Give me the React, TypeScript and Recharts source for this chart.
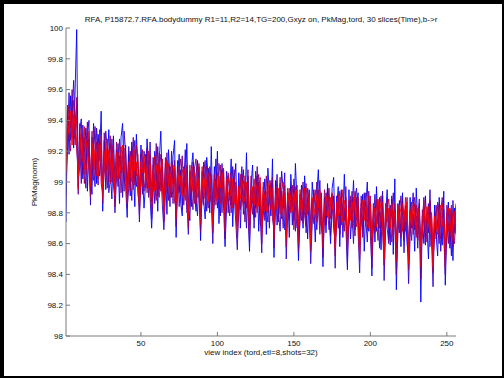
import React from "react"
import { LineChart, Line, XAxis, YAxis } from "recharts"

// view index 1..256 (etl=8 → every 8th view tends to dip)
const views = Array.from({ length: 256 }, (_, i) => i + 1)

const xTicks = [50, 100, 150, 200, 250]
const yTicks = [98, 98.2, 98.4, 98.6, 98.8, 99, 99.2, 99.4, 99.6, 99.8, 100]

// 6 time slices, blue -> red
const sliceColors = ["#0000ff", "#3300cc", "#660099", "#990066", "#cc0033", "#ff0000"]

const slice1 = [
  98.74, 99.47, 99.18, 99.56, 99.36, 99.22, 99.61, 99.99,
  98.97, 99.33, 99.41, 99.02, 99.19, 99.35, 98.94, 99.28,
  99.02, 98.92, 99.38, 99.24, 98.99, 99.31, 99.17, 99.46,
  98.81, 99.27, 98.95, 99.13, 99.34, 99.06, 98.89, 99.3,
  99.0, 99.21, 99.12, 98.86, 99.29, 99.38, 99.02, 98.97,
  98.77, 99.18, 98.91, 99.26, 99.08, 98.84, 99.31, 99.12,
  98.95, 99.24, 99.07, 98.83, 98.98, 99.28, 99.11, 98.9,
  98.7, 98.93, 99.2, 99.09, 98.81, 99.15, 99.33, 98.96,
  98.88, 99.12, 98.79, 99.21, 99.03, 98.9, 99.17, 99.27,
  98.64, 99.05, 99.18, 98.86, 98.78, 99.1, 98.97, 99.25,
  98.83, 98.75, 99.09, 99.19, 98.95, 98.81, 99.14, 99.02,
  98.62, 99.07, 98.88, 98.76, 99.16, 99.03, 98.8, 99.23,
  98.79, 99.1, 98.94, 99.2, 98.73, 98.97, 99.08, 98.85,
  98.58, 98.84, 99.04, 98.92, 99.15, 98.71, 98.98, 99.12,
  98.76, 99.06, 98.7, 98.95, 99.08, 98.86, 99.19, 98.8,
  98.55, 98.98, 99.11, 98.77, 98.9, 99.04, 98.68, 98.94,
  98.74, 98.85, 99.02, 98.66, 99.09, 98.93, 98.78, 99.15,
  98.51, 99.01, 98.72, 98.9, 98.83, 99.07, 98.95, 98.69,
  98.7, 98.93, 98.64, 99.05, 98.86, 98.75, 99.12, 98.89,
  98.49, 98.81, 98.98, 98.7, 99.04, 98.88, 98.63, 98.95,
  98.68, 99.0, 98.85, 98.61, 98.92, 99.08, 98.77, 98.84,
  98.45, 98.9, 98.67, 98.99, 98.79, 98.6, 98.96, 99.03,
  98.66, 98.84, 98.97, 98.58, 98.88, 98.76, 99.05, 98.71,
  98.43, 98.95, 98.63, 98.8, 99.01, 98.69, 98.86, 98.93,
  98.6, 98.77, 98.92, 98.55, 98.84, 99.0, 98.68, 98.87,
  98.39, 98.86, 98.61, 98.97, 98.73, 98.82, 98.56, 98.91,
  98.57, 98.8, 98.95, 98.62, 98.74, 98.89, 98.53, 99.02,
  98.3, 98.72, 98.88, 98.58, 98.93, 98.66, 98.81, 98.6,
  98.52, 98.9, 98.7, 98.79, 98.55, 98.96, 98.74, 98.84,
  98.22, 98.78, 98.6, 98.91, 98.71, 98.5, 98.87, 98.69,
  98.48, 98.85, 98.66, 98.52, 98.9, 98.73, 98.59, 98.94,
  98.33, 98.7, 98.87, 98.57, 98.79, 98.49, 98.83, 98.66,
]

const slice2 = [
  98.9, 99.31, 99.58, 99.27, 99.43, 99.66, 99.34, 99.21,
  99.05, 99.24, 98.99, 99.37, 99.12, 98.96, 99.3, 99.4,
  98.85, 99.29, 99.12, 98.97, 99.35, 99.2, 99.04, 99.16,
  98.98, 99.14, 99.33, 99.21, 98.93, 99.02, 99.28, 99.1,
  98.8, 99.02, 99.25, 99.1, 99.17, 98.9, 99.33, 99.19,
  98.96, 99.23, 99.09, 98.88, 99.14, 99.27, 98.97, 99.05,
  98.74, 99.09, 98.92, 99.2, 99.13, 98.96, 99.02, 99.26,
  98.9, 99.16, 98.86, 99.02, 99.23, 98.95, 99.08, 98.85,
  98.69, 98.91, 99.13, 99.04, 98.84, 99.2, 98.99, 99.09,
  98.86, 99.14, 98.93, 99.08, 98.82, 98.99, 99.21, 98.9,
  98.66, 98.99, 98.84, 99.13, 99.04, 98.9, 98.78, 99.1,
  98.8, 98.87, 99.13, 98.97, 98.81, 99.09, 98.94, 98.86,
  98.6, 98.95, 99.15, 98.83, 98.99, 98.78, 99.12, 98.93,
  98.78, 99.07, 98.8, 98.95, 98.85, 99.1, 98.91, 98.74,
  98.56, 98.89, 98.98, 99.1, 98.79, 98.93, 98.7, 99.04,
  98.75, 98.82, 98.95, 98.7, 99.07, 98.86, 99.0, 98.79,
  98.54, 98.97, 98.75, 98.88, 98.93, 98.7, 98.99, 98.85,
  98.72, 98.86, 99.05, 98.79, 98.68, 98.94, 98.83, 99.06,
  98.5, 98.8, 98.89, 98.97, 98.72, 99.02, 98.84, 98.7,
  98.7, 98.92, 98.75, 98.85, 98.97, 98.67, 98.9, 98.8,
  98.47, 98.74, 98.95, 98.82, 98.69, 98.87, 99.01, 98.72,
  98.67, 98.83, 98.72, 98.96, 98.86, 98.65, 98.79, 98.91,
  98.44, 98.91, 98.7, 98.8, 98.95, 98.64, 98.83, 98.77,
  98.64, 98.72, 98.88, 98.78, 98.6, 98.9, 98.96, 98.67,
  98.41, 98.83, 98.69, 98.93, 98.76, 98.61, 98.86, 98.8,
  98.62, 98.75, 98.92, 98.68, 98.85, 98.57, 98.79, 98.94,
  98.36, 98.69, 98.84, 98.77, 98.59, 98.91, 98.71, 98.82,
  98.58, 98.86, 98.67, 98.74, 98.89, 98.54, 98.78, 98.7,
  98.34, 98.64, 98.81, 98.93, 98.69, 98.78, 98.57, 98.86,
  98.56, 98.71, 98.9, 98.59, 98.8, 98.67, 98.95, 98.62,
  98.32, 98.8, 98.63, 98.74, 98.86, 98.55, 98.72, 98.82,
  98.55, 98.62, 98.84, 98.71, 98.52, 98.88, 98.67, 98.77,
]

const slice3 = [
  99.05, 99.22, 99.43, 99.35, 99.6, 99.28, 99.4, 99.5,
  98.92, 99.38, 99.16, 99.05, 99.29, 99.22, 99.39, 99.07,
  98.94, 99.06, 99.24, 99.36, 99.13, 98.98, 99.27, 99.2,
  98.86, 99.32, 99.08, 99.19, 99.0, 99.25, 99.15, 98.98,
  98.9, 99.13, 98.97, 99.28, 99.06, 99.2, 98.94, 99.24,
  98.83, 98.96, 99.2, 99.12, 99.29, 99.0, 99.11, 98.92,
  98.85, 99.18, 99.15, 98.94, 99.05, 99.22, 98.9, 99.09,
  98.76, 99.06, 98.97, 99.25, 98.91, 99.05, 99.18, 99.12,
  98.82, 99.0, 99.19, 98.88, 99.1, 99.06, 98.86, 99.14,
  98.71, 99.11, 98.84, 99.02, 99.17, 98.93, 99.05, 98.8,
  98.79, 99.07, 98.94, 98.82, 99.09, 99.15, 98.97, 98.89,
  98.67, 98.93, 99.06, 99.14, 98.9, 98.83, 99.1, 99.0,
  98.74, 98.86, 99.02, 98.91, 99.12, 99.04, 98.8, 99.09,
  98.63, 98.98, 98.91, 98.78, 99.01, 98.94, 99.08, 98.87,
  98.71, 98.97, 98.82, 99.05, 98.93, 98.74, 98.98, 98.91,
  98.6, 98.91, 98.79, 98.97, 98.83, 99.1, 98.9, 98.73,
  98.7, 98.78, 98.94, 98.83, 98.74, 98.98, 98.9, 99.03,
  98.57, 98.91, 98.96, 98.74, 98.99, 98.86, 98.7, 98.93,
  98.66, 98.87, 98.75, 98.94, 98.85, 98.95, 98.68, 98.98,
  98.54, 98.74, 98.89, 99.0, 98.78, 98.71, 98.96, 98.85,
  98.63, 98.89, 98.73, 98.8, 99.0, 98.84, 98.66, 98.93,
  98.51, 98.77, 98.93, 98.82, 98.69, 98.88, 98.92, 98.7,
  98.61, 98.75, 98.86, 98.66, 98.91, 98.82, 98.75, 98.97,
  98.47, 98.85, 98.76, 98.94, 98.73, 98.65, 98.9, 98.79,
  98.58, 98.91, 98.64, 98.81, 98.87, 98.74, 98.94, 98.66,
  98.44, 98.73, 98.84, 98.76, 98.62, 98.9, 98.7, 98.81,
  98.55, 98.86, 98.7, 98.6, 98.85, 98.77, 98.93, 98.72,
  98.4, 98.66, 98.79, 98.91, 98.71, 98.62, 98.85, 98.77,
  98.53, 98.75, 98.62, 98.84, 98.9, 98.66, 98.73, 98.89,
  98.37, 98.82, 98.73, 98.64, 98.78, 98.86, 98.58, 98.8,
  98.5, 98.67, 98.85, 98.72, 98.6, 98.81, 98.9, 98.65,
  98.4, 98.79, 98.6, 98.83, 98.7, 98.58, 98.76, 98.86,
]

const slice4 = [
  99.14, 99.5, 99.3, 99.2, 99.46, 99.37, 99.24, 99.55,
  99.02, 99.1, 99.31, 99.25, 98.99, 99.18, 99.27, 99.13,
  98.9, 99.33, 99.01, 99.15, 99.26, 99.08, 99.34, 98.99,
  98.93, 99.05, 99.22, 98.96, 99.17, 99.3, 99.0, 99.21,
  98.84, 99.26, 99.08, 99.17, 98.93, 99.1, 99.22, 99.0,
  98.91, 99.07, 98.94, 99.19, 99.1, 98.98, 99.24, 99.13,
  98.79, 98.99, 99.21, 99.06, 99.18, 98.93, 99.06, 99.17,
  98.87, 99.11, 99.03, 98.88, 99.06, 99.19, 98.94, 99.08,
  98.74, 99.16, 98.93, 99.05, 98.96, 99.13, 99.08, 98.87,
  98.83, 98.97, 99.06, 99.15, 99.01, 98.85, 98.98, 99.11,
  98.7, 99.11, 98.91, 99.02, 98.86, 99.06, 99.1, 98.95,
  98.79, 98.98, 98.85, 99.06, 99.1, 98.92, 98.87, 99.05,
  98.67, 99.05, 98.85, 98.96, 98.89, 99.11, 98.93, 99.0,
  98.75, 98.9, 99.06, 98.99, 98.8, 98.97, 99.03, 98.84,
  98.64, 98.8, 99.03, 98.87, 99.01, 98.96, 98.83, 99.08,
  98.72, 99.04, 98.86, 98.91, 98.77, 98.95, 99.05, 98.87,
  98.6, 98.92, 98.87, 99.04, 98.8, 98.87, 99.01, 98.76,
  98.69, 98.81, 98.93, 98.84, 99.03, 98.76, 98.88, 98.98,
  98.58, 98.96, 98.81, 98.87, 98.98, 98.69, 98.93, 98.82,
  98.66, 98.85, 98.94, 98.73, 98.86, 98.99, 98.79, 98.88,
  98.55, 98.8, 98.91, 98.86, 98.74, 98.95, 98.83, 98.7,
  98.64, 98.95, 98.78, 98.86, 98.96, 98.76, 98.84, 98.81,
  98.52, 98.79, 98.83, 98.94, 98.72, 98.85, 98.68, 98.9,
  98.61, 98.78, 98.91, 98.7, 98.83, 98.94, 98.75, 98.84,
  98.49, 98.86, 98.74, 98.79, 98.93, 98.69, 98.8, 98.91,
  98.59, 98.8, 98.67, 98.89, 98.78, 98.83, 98.91, 98.68,
  98.46, 98.76, 98.88, 98.7, 98.82, 98.61, 98.79, 98.86,
  98.57, 98.82, 98.73, 98.64, 98.84, 98.77, 98.68, 98.9,
  98.43, 98.79, 98.87, 98.66, 98.76, 98.85, 98.62, 98.78,
  98.54, 98.67, 98.84, 98.76, 98.61, 98.79, 98.88, 98.71,
  98.41, 98.76, 98.69, 98.87, 98.7, 98.63, 98.8, 98.73,
  98.51, 98.85, 98.73, 98.64, 98.82, 98.71, 98.6, 98.8,
]

const slice5 = [
  99.16, 99.27, 99.49, 99.41, 99.29, 99.53, 99.33, 99.42,
  98.95, 99.28, 99.2, 99.13, 99.36, 99.05, 99.16, 99.33,
  99.0, 99.17, 99.29, 99.09, 99.04, 99.25, 99.14, 99.3,
  98.89, 99.2, 99.04, 99.28, 99.12, 98.99, 99.24, 99.07,
  98.93, 99.08, 99.19, 99.02, 99.23, 99.15, 99.06, 99.14,
  98.86, 99.13, 99.03, 99.16, 98.95, 99.21, 99.04, 99.18,
  98.88, 99.04, 98.97, 99.13, 99.09, 99.02, 99.2, 98.95,
  98.81, 99.0, 99.17, 98.95, 99.12, 98.9, 99.04, 99.15,
  98.85, 99.08, 99.02, 99.12, 98.9, 99.03, 99.11, 99.0,
  98.76, 98.92, 99.1, 98.97, 99.08, 99.04, 98.88, 99.03,
  98.81, 98.94, 99.03, 99.1, 98.96, 98.86, 99.04, 99.12,
  98.72, 99.1, 98.95, 98.89, 99.02, 99.06, 98.96, 98.9,
  98.77, 98.98, 98.9, 99.06, 99.0, 98.86, 99.01, 99.09,
  98.68, 99.02, 98.94, 98.88, 99.06, 98.83, 98.96, 99.0,
  98.74, 98.92, 99.05, 98.9, 98.84, 99.04, 98.95, 98.86,
  98.65, 98.95, 98.88, 99.02, 98.93, 98.8, 98.97, 99.03,
  98.72, 99.0, 98.81, 98.92, 98.97, 98.89, 98.82, 98.96,
  98.63, 98.83, 98.97, 98.91, 98.79, 98.95, 99.0, 98.85,
  98.69, 98.91, 98.93, 98.8, 98.9, 98.84, 98.97, 98.77,
  98.6, 98.95, 98.82, 98.9, 98.92, 98.78, 98.86, 98.93,
  98.66, 98.83, 98.88, 98.95, 98.79, 98.9, 98.72, 98.88,
  98.57, 98.86, 98.8, 98.77, 98.91, 98.84, 98.93, 98.76,
  98.63, 98.72, 98.92, 98.83, 98.78, 98.95, 98.81, 98.85,
  98.55, 98.88, 98.81, 98.74, 98.9, 98.79, 98.71, 98.9,
  98.62, 98.73, 98.84, 98.88, 98.71, 98.8, 98.91, 98.76,
  98.52, 98.86, 98.76, 98.83, 98.89, 98.7, 98.8, 98.87,
  98.6, 98.71, 98.81, 98.89, 98.76, 98.84, 98.65, 98.8,
  98.48, 98.85, 98.69, 98.78, 98.86, 98.72, 98.9, 98.74,
  98.58, 98.82, 98.76, 98.71, 98.86, 98.64, 98.8, 98.83,
  98.45, 98.75, 98.88, 98.68, 98.79, 98.84, 98.7, 98.77,
  98.55, 98.71, 98.8, 98.85, 98.66, 98.78, 98.86, 98.69,
  98.44, 98.8, 98.68, 98.77, 98.85, 98.62, 98.74, 98.82,
]

const slice6 = [
  99.07, 99.39, 99.31, 99.46, 99.24, 99.44, 99.35, 99.26,
  99.04, 99.2, 99.35, 99.17, 99.08, 99.27, 99.21, 99.12,
  98.97, 99.25, 99.07, 99.21, 99.18, 99.02, 99.24, 99.15,
  98.96, 99.12, 99.26, 99.1, 99.21, 99.14, 99.03, 99.19,
  98.91, 99.19, 99.02, 99.13, 99.07, 99.24, 99.12, 99.05,
  98.94, 99.06, 99.17, 99.0, 99.2, 99.07, 99.13, 99.0,
  98.86, 99.13, 99.06, 99.17, 98.99, 99.1, 98.96, 99.12,
  98.9, 99.08, 98.94, 99.11, 99.03, 99.13, 99.07, 98.97,
  98.8, 99.04, 99.14, 98.97, 99.06, 98.94, 99.04, 99.1,
  98.87, 99.06, 98.99, 99.04, 98.91, 99.09, 99.02, 98.95,
  98.76, 98.97, 99.08, 98.94, 99.06, 99.01, 98.9, 99.03,
  98.83, 99.02, 98.91, 99.05, 98.98, 98.87, 99.04, 98.97,
  98.72, 99.01, 98.93, 98.87, 99.04, 98.96, 99.06, 98.91,
  98.8, 98.93, 99.03, 98.96, 98.91, 99.02, 98.86, 98.98,
  98.69, 98.97, 98.89, 99.01, 98.94, 98.87, 99.0, 98.95,
  98.77, 98.88, 98.97, 98.85, 99.0, 98.94, 98.84, 98.99,
  98.66, 98.94, 98.9, 98.81, 98.95, 99.01, 98.88, 98.84,
  98.74, 98.92, 98.82, 98.96, 98.88, 98.8, 98.94, 98.9,
  98.63, 98.84, 98.96, 98.88, 98.81, 98.93, 98.85, 98.95,
  98.71, 98.89, 98.79, 98.86, 98.96, 98.84, 98.8, 98.9,
  98.6, 98.9, 98.84, 98.78, 98.92, 98.83, 98.94, 98.8,
  98.68, 98.8, 98.91, 98.84, 98.76, 98.9, 98.82, 98.87,
  98.57, 98.87, 98.78, 98.9, 98.84, 98.74, 98.88, 98.82,
  98.66, 98.83, 98.75, 98.87, 98.8, 98.91, 98.78, 98.73,
  98.53, 98.8, 98.88, 98.75, 98.84, 98.78, 98.7, 98.86,
  98.64, 98.77, 98.83, 98.71, 98.88, 98.8, 98.86, 98.74,
  98.5, 98.84, 98.74, 98.83, 98.7, 98.86, 98.77, 98.81,
  98.61, 98.73, 98.85, 98.8, 98.68, 98.82, 98.74, 98.87,
  98.47, 98.8, 98.72, 98.85, 98.78, 98.7, 98.83, 98.75,
  98.58, 98.69, 98.82, 98.72, 98.84, 98.76, 98.67, 98.8,
  98.45, 98.78, 98.73, 98.66, 98.8, 98.85, 98.71, 98.77,
  98.56, 98.72, 98.83, 98.75, 98.64, 98.79, 98.81, 98.7,
]

const slices = [slice1, slice2, slice3, slice4, slice5, slice6]

const data = views.map((v, i) => {
  const row: Record<string, number> = { view: v }
  slices.forEach((s, j) => {
    row["s" + j] = s[i]
  })
  return row
})

const font = "'Liberation Sans', Arial, Helvetica, sans-serif"
const axisColor = "#7a7a7a"
const tickStyle = { fontSize: 8, fill: "#111", fontFamily: font }
const fmtY = (v: number) => v.toFixed(1).replace(/\.0$/, "")
const blank = () => ""

export default function App() {
  return (
    <div style={{ position: "fixed", left: 0, top: 0, width: 504, height: 378, background: "#000" }}>
      <div style={{ position: "absolute", left: 4, top: 4, width: 498, height: 372, background: "#fff" }} />
      <div
        style={{
          position: "absolute", left: 0, width: 522, top: 14, textAlign: "center",
          fontFamily: font, fontSize: 8, color: "#111", lineHeight: "12px",
        }}
      >
        RFA, P15872.7.RFA.bodydummy R1=11,R2=14,TG=200,Gxyz on, PkMag,tord, 30 slices(Time),b-&gt;r
      </div>
      <div
        style={{
          position: "absolute", left: 0, width: 522, top: 347, textAlign: "center",
          fontFamily: font, fontSize: 8, color: "#111", lineHeight: "12px",
        }}
      >
        view index (tord,etl=8,shots=32)
      </div>
      <div style={{ position: "absolute", left: 35, top: 182, width: 0, height: 0 }}>
        <div
          style={{
            position: "absolute", left: -60, top: -6, width: 120, textAlign: "center",
            fontFamily: font, fontSize: 8, color: "#111", lineHeight: "12px",
            transform: "rotate(-90deg)",
          }}
        >
          PkMag(norm)
        </div>
      </div>
      <div style={{ position: "absolute", left: 0, top: 0 }}>
        <LineChart width={504} height={378} data={data} margin={{ top: 28, right: 48, left: 0, bottom: 0 }}>
          <XAxis
            dataKey="view" type="number" domain={[1, 256]} ticks={xTicks}
            height={42} stroke={axisColor} tickSize={-4} tickMargin={8}
            tick={tickStyle} allowDataOverflow
          />
          <XAxis
            xAxisId="top" orientation="top" dataKey="view" type="number" domain={[1, 256]} ticks={xTicks}
            height={0} stroke={axisColor} tickSize={-4} tickFormatter={blank} allowDataOverflow
          />
          <YAxis
            type="number" domain={[98, 100]} ticks={yTicks} width={66}
            stroke={axisColor} tickSize={-4} tickMargin={7} tickFormatter={fmtY}
            tick={tickStyle} allowDataOverflow interval={0}
          />
          <YAxis
            yAxisId="r" orientation="right" type="number" domain={[98, 100]} ticks={yTicks} width={0}
            stroke={axisColor} tickSize={-4} tickFormatter={blank} allowDataOverflow interval={0}
          />
          {sliceColors.map((c, j) => (
            <Line
              key={j} dataKey={"s" + j} stroke={c} strokeWidth={1} strokeOpacity={0.9}
              dot={false} isAnimationActive={false} type="linear"
            />
          ))}
        </LineChart>
      </div>
    </div>
  )
}
